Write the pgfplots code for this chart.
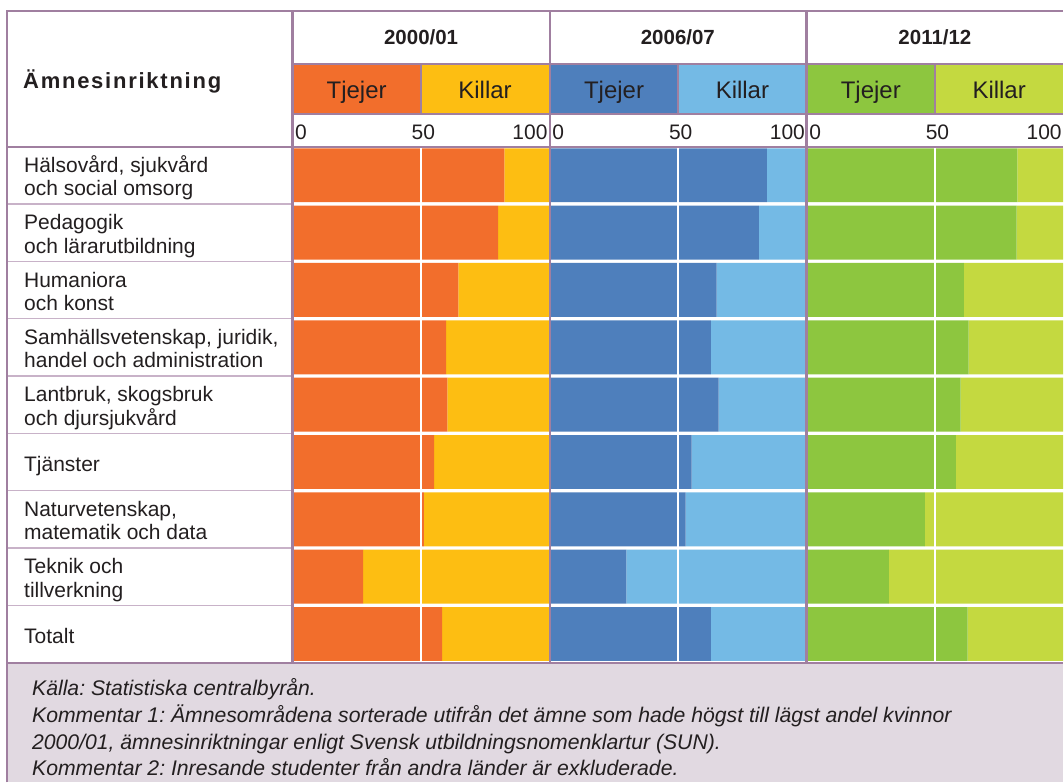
\documentclass[border=0pt]{standalone}
\usepackage{pgfplots}
\pgfplotsset{compat=1.18}
\usepackage{fontspec}
\setmainfont{Liberation Sans}
\newfontfamily\spacedfont[LetterSpace=8]{Liberation Sans}
\frenchspacing
\definecolor{orc}{HTML}{F26E2C}
\definecolor{yec}{HTML}{FDBE12}
\definecolor{blc}{HTML}{4E7FBC}
\definecolor{lbc}{HTML}{74BAE5}
\definecolor{grc}{HTML}{8DC63F}
\definecolor{lgc}{HTML}{C4D940}
\definecolor{mv}{HTML}{A07FA0}
\definecolor{mvl}{HTML}{C8B2C8}
\definecolor{ftc}{HTML}{E1D9E1}
\definecolor{txt}{HTML}{231F20}
\newcommand{\lab}{\fontsize{21}{23}\selectfont}
\newcommand{\hdr}{\fontsize{24}{26}\selectfont}
\newcommand{\tck}{\fontsize{21}{24}\selectfont}
\newcommand{\yr}{\fontsize{20.5}{24}\selectfont\bfseries}
\newcommand{\ftr}{\fontsize{21.2}{24}\selectfont\itshape}
\pgfplotsset{panel/.style={
  xbar stacked, scale only axis, height=516.6pt,
  xmin=0, xmax=100, ymin=0.5, ymax=9.5, y dir=reverse,
  bar width=54pt, hide axis, clip=false, anchor=south west}}
\begin{document}
\begin{tikzpicture}
\begin{scope}[x=1pt,y=-1pt]
\path[use as bounding box] (0,0) rectangle (1064,783);
\fill[white] (0,0) rectangle (1064,783);
\fill[ftc] (7.3,663.3) rectangle (1064,783);
% coloured header cells
\fill[orc] (292.7,64.5) rectangle (421.2,114);
\fill[yec] (421.2,64.5) rectangle (550.3,114);
\fill[blc] (550.3,64.5) rectangle (678.8,114);
\fill[lbc] (678.8,64.5) rectangle (807.3,114);
\fill[grc] (807.3,64.5) rectangle (935.8,114);
\fill[lgc] (935.8,64.5) rectangle (1064,114);
\end{scope}

% data: Tjejer share, Killar share (percent)
\begin{axis}[panel, width=257pt, at={(292.7pt,-663.3pt)}]
\addplot[fill=orc, draw=none] coordinates {(82.5,1) (80.1,2) (64.6,3) (59.9,4) (60.3,5) (55.2,6) (51.2,7) (27.5,8) (58.3,9)};
\addplot[fill=yec, draw=none] coordinates {(17.5,1) (19.9,2) (35.4,3) (40.1,4) (39.7,5) (44.8,6) (48.8,7) (72.5,8) (41.7,9)};
\end{axis}
\begin{axis}[panel, width=257pt, at={(550.3pt,-663.3pt)}]
\addplot[fill=blc, draw=none] coordinates {(84.5,1) (81.4,2) (65.0,3) (62.7,4) (65.8,5) (55.2,6) (52.9,7) (29.8,8) (62.7,9)};
\addplot[fill=lbc, draw=none] coordinates {(15.5,1) (18.6,2) (35.0,3) (37.3,4) (34.2,5) (44.8,6) (47.1,7) (70.2,8) (37.3,9)};
\end{axis}
\begin{axis}[panel, width=256.7pt, at={(807.3pt,-663.3pt)}]
\addplot[fill=grc, draw=none] coordinates {(82.2,1) (81.9,2) (61.3,3) (63.2,4) (60.1,5) (58.2,6) (46.1,7) (32.1,8) (62.8,9)};
\addplot[fill=lgc, draw=none] coordinates {(17.8,1) (18.1,2) (38.7,3) (36.8,4) (39.9,5) (41.8,6) (53.9,7) (67.9,8) (37.2,9)};
\end{axis}

\begin{scope}[x=1pt,y=-1pt]
% 50 % gridlines
\foreach \x in {421.2,678.8,935.8} \draw[white, line width=2.6pt] (\x,146.7) -- (\x,663.3);
% row separators in label column
\foreach \i in {1,...,8} {
  \draw[mvl, line width=1.5pt] (7.3,{146.7+57.4*\i}) -- (292.7,{146.7+57.4*\i});
}
% header lines
\draw[mv, line width=2pt] (292.7,64.5) -- (1064,64.5);
\draw[mv, line width=2pt] (292.7,114) -- (1064,114);
\draw[mv, line width=2pt] (7.3,146.7) -- (1064,146.7);
\draw[mv, line width=2pt] (7.3,663.3) -- (1064,663.3);
\foreach \x in {421.2,678.8,935.8} \draw[mv, line width=2pt] (\x,64.5) -- (\x,114);
\foreach \x in {292.7,550.3,807.3} \draw[mv, line width=2.2pt] (\x,11) -- (\x,663.3);
% outer border
\draw[mv, line width=2pt] (7.3,783) -- (7.3,11) -- (1064,11);

% header texts
\node[anchor=base west, inner sep=0, text=txt] at (23,88.5) {\spacedfont\fontsize{22}{24}\selectfont\bfseries Ämnesinriktning};
\node[anchor=base, inner sep=0, text=txt] at (421.5,45) {\yr 2000/01};
\node[anchor=base, inner sep=0, text=txt] at (678.5,45) {\yr 2006/07};
\node[anchor=base, inner sep=0, text=txt] at (935.8,45) {\yr 2011/12};
\foreach \x in {292.7,550.3,807.3} {
  \node[anchor=base, inner sep=0, text=txt] at (\x+64.3,98.3) {\hdr Tjejer};
  \node[anchor=base, inner sep=0, text=txt] at (\x+192.8,98.3) {\hdr Killar};
  \node[anchor=base west, inner sep=0, text=txt] at (\x+2.5,140) {\tck 0};
  \node[anchor=base, inner sep=0, text=txt] at (\x+131,140) {\tck 50};
  \node[anchor=base east, inner sep=0, text=txt] at (\x+255.5,140) {\tck 100};
}

% row labels
\newcommand{\rowtwo}[3]{%
  \node[anchor=base west, inner sep=0, text=txt] at (24,{146.7+57.4*(#1-1)+26}) {\lab #2};
  \node[anchor=base west, inner sep=0, text=txt] at (24,{146.7+57.4*(#1-1)+49.3}) {\lab #3};}
\newcommand{\rowone}[2]{%
  \node[anchor=base west, inner sep=0, text=txt] at (24,{146.7+57.4*(#1-1)+38.2}) {\lab #2};}
\rowtwo{1}{Hälsovård, sjukvård}{och social omsorg}
\rowtwo{2}{Pedagogik}{och lärarutbildning}
\rowtwo{3}{Humaniora}{och konst}
\rowtwo{4}{Samhällsvetenskap, juridik,}{handel och administration}
\rowtwo{5}{Lantbruk, skogsbruk}{och djursjukvård}
\rowone{6}{Tjänster}
\rowtwo{7}{Naturvetenskap,}{matematik och data}
\rowtwo{8}{Teknik och}{tillverkning}
\rowone{9}{Totalt}

% footer
\node[anchor=base west, inner sep=0, text=txt] at (32,696) {\ftr Källa: Statistiska centralbyrån.};
\node[anchor=base west, inner sep=0, text=txt] at (32,723) {\ftr Kommentar 1: Ämnesområdena sorterade utifrån det ämne som hade högst till lägst andel kvinnor};
\node[anchor=base west, inner sep=0, text=txt] at (32,750) {\ftr 2000/01, ämnesinriktningar enligt Svensk utbildningsnomenklartur (SUN).};
\node[anchor=base west, inner sep=0, text=txt] at (32,776) {\ftr Kommentar 2: Inresande studenter från andra länder är exkluderade.};
\end{scope}
\end{tikzpicture}
\end{document}
